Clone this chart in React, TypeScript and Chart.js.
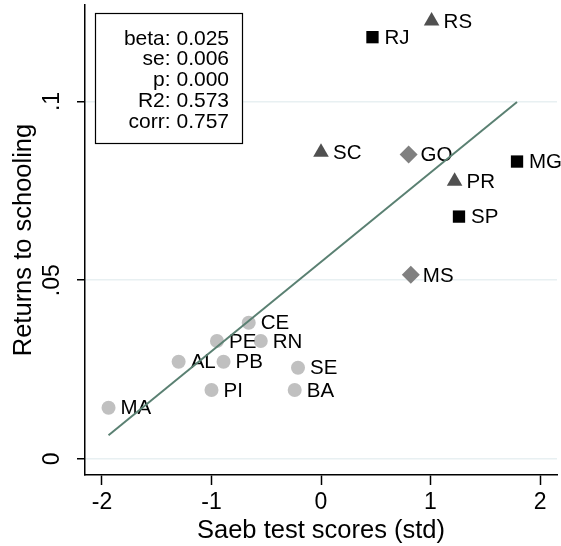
import React, { useEffect, useRef } from 'react';
import { Chart, registerables } from 'chart.js';

Chart.register(...registerables);

const FONT = '"Liberation Sans", Arial, Helvetica, sans-serif';

// States grouped by marker, with Saeb test score (std) and returns to schooling
const squareStates = ['RJ', 'MG', 'SP'];
const squareScores = [0.47, 1.79, 1.26];
const squareReturns = [0.118, 0.0832, 0.0678];

const triangleStates = ['RS', 'SC', 'PR'];
const triangleScores = [1.01, 0.0, 1.22];
const triangleReturns = [0.1225, 0.0858, 0.0777];

const diamondStates = ['GO', 'MS'];
const diamondScores = [0.8, 0.82];
const diamondReturns = [0.0852, 0.0515];

const circleStates = ['CE', 'PE', 'RN', 'AL', 'PB', 'SE', 'PI', 'BA', 'MA'];
const circleScores = [-0.66, -0.95, -0.55, -1.3, -0.89, -0.21, -1.0, -0.24, -1.94];
const circleReturns = [0.0381, 0.033, 0.033, 0.0272, 0.0272, 0.0255, 0.0193, 0.0193, 0.0143];

// Regression summary
const statNames = ['beta', 'se', 'p', 'R2', 'corr'];
const statValues = ['0.025', '0.006', '0.000', '0.573', '0.757'];
const fitSlope = 0.025;
const fitIntercept = 0.0551;

// Axes
const xTicks = [-2, -1, 0, 1, 2];
const xTickLabels = ['-2', '-1', '0', '1', '2'];
const yTicks = [0, 0.05, 0.1];
const yTickLabels = ['0', '.05', '.1'];

const allScores = [...squareScores, ...triangleScores, ...diamondScores, ...circleScores];
const fitX0 = Math.min(...allScores);
const fitX1 = Math.max(...allScores);

const toPoints = (xs: number[], ys: number[]) => xs.map((x, i) => ({ x, y: ys[i] }));

const pointLabelsPlugin = {
  id: 'pointLabels',
  afterDatasetDraw(chart: any, args: any) {
    const ds = chart.data.datasets[args.index] as any;
    if (!ds.stateNames) return;
    const ctx = chart.ctx;
    const meta = chart.getDatasetMeta(args.index);
    ctx.save();
    ctx.font = `20.5px ${FONT}`;
    ctx.fillStyle = '#000';
    ctx.textAlign = 'left';
    ctx.textBaseline = 'middle';
    meta.data.forEach((el: any, i: number) => {
      ctx.fillText(ds.stateNames[i], el.x + 12, el.y + 1);
    });
    ctx.restore();
  },
};

const statBoxPlugin = {
  id: 'statBox',
  afterDraw(chart: any) {
    const { ctx, chartArea } = chart;
    const left = chartArea.left + 10;
    const top = chartArea.top + 8;
    const w = 147;
    const h = 130;
    ctx.save();
    ctx.fillStyle = '#fff';
    ctx.fillRect(left, top, w, h);
    ctx.strokeStyle = '#000';
    ctx.lineWidth = 1.2;
    ctx.strokeRect(left + 0.5, top + 0.5, w, h);
    ctx.font = `21px ${FONT}`;
    ctx.fillStyle = '#000';
    ctx.textAlign = 'right';
    ctx.textBaseline = 'middle';
    statNames.forEach((name, i) => {
      ctx.fillText(`${name}: ${statValues[i]}`, left + w - 13, top + 26 + i * 20.7);
    });
    ctx.restore();
  },
};

export default function App() {
  const canvasRef = useRef<HTMLCanvasElement | null>(null);

  useEffect(() => {
    if (!canvasRef.current) return;
    const marker = (pointStyle: string, radius: number, color: string) => ({
      pointStyle,
      pointRadius: radius,
      pointHoverRadius: radius,
      pointBackgroundColor: color,
      backgroundColor: color,
      pointBorderWidth: 0,
      borderWidth: 0,
      showLine: false,
      order: 1,
    });

    const chart = new Chart(canvasRef.current, {
      type: 'scatter',
      data: {
        datasets: [
          {
            data: toPoints(squareScores, squareReturns),
            stateNames: squareStates,
            ...marker('rect', 8.7, '#000000'),
          } as any,
          {
            data: toPoints(triangleScores, triangleReturns),
            stateNames: triangleStates,
            ...marker('triangle', 9, '#505050'),
          } as any,
          {
            data: toPoints(diamondScores, diamondReturns),
            stateNames: diamondStates,
            ...marker('rectRot', 9, '#808080'),
          } as any,
          {
            data: toPoints(circleScores, circleReturns),
            stateNames: circleStates,
            ...marker('circle', 7, '#c0c0c0'),
          } as any,
          {
            data: [
              { x: fitX0, y: fitIntercept + fitSlope * fitX0 },
              { x: fitX1, y: fitIntercept + fitSlope * fitX1 },
            ],
            showLine: true,
            borderColor: '#5a8072',
            borderWidth: 2,
            pointRadius: 0,
            pointHoverRadius: 0,
            order: 0,
          } as any,
        ],
      },
      options: {
        animation: false,
        responsive: false,
        devicePixelRatio: 1,
        layout: { autoPadding: false, padding: { top: 5, right: 4, left: 0, bottom: 0 } },
        plugins: {
          legend: { display: false },
          tooltip: { enabled: false },
        },
        scales: {
          x: {
            type: 'linear',
            min: -2.155,
            max: 2.155,
            afterBuildTicks: (s: any) => {
              s.ticks = xTicks.map((v) => ({ value: v }));
            },
            afterFit: (s: any) => {
              s.height = 71;
              s.paddingLeft = 0;
              s.paddingRight = 0;
            },
            grid: {
              display: true,
              drawOnChartArea: false,
              drawTicks: true,
              tickLength: 10,
              tickColor: '#000',
              tickWidth: 1.5,
            },
            border: { display: true, color: '#000', width: 1.5 },
            ticks: {
              color: '#000',
              font: { family: FONT, size: 23 },
              padding: 4,
              maxRotation: 0,
              callback: (_v: any, i: number) => xTickLabels[i],
            },
            title: {
              display: true,
              text: 'Saeb test scores (std)',
              color: '#000',
              font: { family: FONT, size: 25.5 },
              padding: { top: 0, bottom: 0 },
            },
          },
          y: {
            type: 'linear',
            min: -0.0045,
            max: 0.127,
            afterBuildTicks: (s: any) => {
              s.ticks = yTicks.map((v) => ({ value: v }));
            },
            afterFit: (s: any) => {
              s.width = 85;
              s.paddingTop = 0;
              s.paddingBottom = 0;
            },
            grid: {
              color: 'rgb(232,240,242)',
              lineWidth: 1.5,
              drawTicks: true,
              tickLength: 8,
              tickColor: '#000',
              tickWidth: 1.5,
            },
            border: { display: true, color: '#000', width: 1.5 },
            ticks: {
              color: '#000',
              font: { family: FONT, size: 23 },
              minRotation: 90,
              maxRotation: 90,
              crossAlign: 'center',
              padding: 8,
              callback: (_v: any, i: number) => yTickLabels[i],
            },
            title: {
              display: true,
              text: 'Returns to schooling',
              color: '#000',
              font: { family: FONT, size: 25.5 },
              padding: { top: 9, bottom: 0 },
            },
          },
        },
      } as any,
      plugins: [pointLabelsPlugin, statBoxPlugin],
    });
    return () => chart.destroy();
  }, []);

  return (
    <div style={{ position: 'absolute', left: 0, top: 0, width: 561, height: 546, background: '#fff' }}>
      <canvas ref={canvasRef} width={561} height={546} />
    </div>
  );
}
